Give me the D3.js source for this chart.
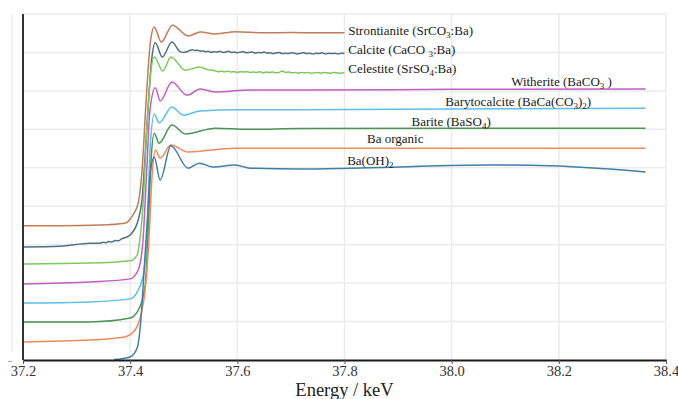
<!DOCTYPE html>
<html>
<head>
<meta charset="utf-8">
<script src="https://cdn.jsdelivr.net/npm/d3@7"></script>
<style>
  body { margin: 0; background: #fff; }
  svg { display: block; font-family: "Liberation Serif", "Times New Roman", serif; }
</style>
</head>
<body>
<svg id="chart" width="678" height="399"></svg>
<script>
// x ticks (keV)
const xTicks = [37.2, 37.4, 37.6, 37.8, 38.0, 38.2, 38.4];
// horizontal grid rows (stacked offset units)
const yGrid = [0, 1, 2, 3, 4, 5, 6, 7, 8, 9];

// spectra: [energy keV, offset absorption]
const strontianite = [[37.2,3.49],[37.27,3.49],[37.344,3.51],[37.39,3.56],[37.405,3.77],[37.415,4.08],[37.422,4.9],[37.43,6.8],[37.438,8.3],[37.445,8.66],[37.458,8.27],[37.479,8.71],[37.508,8.43],[37.531,8.53],[37.559,8.48],[37.596,8.54],[37.65,8.51],[37.7,8.52],[37.75,8.51],[37.8,8.51]];

const calcite = [[37.2,2.94],[37.27,2.96],[37.325,3.04],[37.344,3.04],[37.35,3.06],[37.355,3.05],[37.36,3.08],[37.366,3.07],[37.372,3.11],[37.378,3.10],[37.384,3.15],[37.39,3.18],[37.4,3.25],[37.415,3.64],[37.422,4.16],[37.432,6.24],[37.44,7.8],[37.447,8.25],[37.46,7.88],[37.478,8.27],[37.493,8.02],
  [37.5,8.0],[37.506,8.02],[37.511,8.05],[37.516,8.07],[37.521,8.05],[37.526,8.06],[37.531,8.03],[37.536,8.04],[37.541,8.02],[37.546,8.03],[37.551,8.0],[37.556,8.02],[37.562,8.01],[37.568,8.03],[37.573,8.0],[37.578,8.01],[37.584,8.03],[37.589,8.0],[37.595,8.01],[37.6,7.99],[37.606,8.01],[37.611,8.02],[37.617,7.99],[37.622,8.0],[37.628,8.01],[37.634,7.98],[37.639,8.0],[37.645,7.99],[37.65,8.01],[37.656,7.98],[37.661,7.99],[37.667,7.97],[37.673,7.99],[37.678,8.0],[37.684,7.97],[37.69,7.98],[37.695,7.97],[37.701,7.99],[37.707,7.98],[37.712,7.96],[37.718,7.98],[37.724,7.99],[37.73,7.97],[37.735,7.98],[37.741,7.96],[37.747,7.98],[37.752,7.97],[37.758,7.99],[37.764,7.96],[37.77,7.98],[37.776,7.97],[37.782,7.98],[37.788,7.96],[37.794,7.98],[37.8,7.97]];

const celestite = [[37.2,2.50],[37.325,2.52],[37.4,2.58],[37.413,2.73],[37.418,3.12],[37.424,4.03],[37.432,6.24],[37.439,7.54],[37.445,7.88],[37.461,7.52],[37.476,7.88],[37.503,7.54],[37.529,7.62],[37.545,7.55],
  [37.559,7.52],[37.565,7.5],[37.57,7.51],[37.576,7.5],[37.582,7.51],[37.588,7.49],[37.594,7.5],[37.6,7.48],[37.606,7.5],[37.612,7.49],[37.618,7.5],[37.624,7.48],[37.63,7.49],[37.636,7.48],[37.642,7.5],[37.648,7.47],[37.654,7.49],[37.66,7.48],[37.666,7.49],[37.672,7.47],[37.678,7.48],[37.684,7.52],[37.69,7.48],[37.696,7.49],[37.702,7.47],[37.708,7.48],[37.714,7.46],[37.72,7.48],[37.726,7.47],[37.732,7.48],[37.738,7.46],[37.744,7.47],[37.75,7.48],[37.756,7.46],[37.762,7.48],[37.768,7.47],[37.774,7.46],[37.78,7.48],[37.786,7.47],[37.792,7.46],[37.8,7.47]];

const witherite = [[37.2,1.98],[37.325,2.03],[37.4,2.11],[37.415,2.34],[37.424,3.12],[37.43,4.68],[37.437,6.5],[37.447,7.08],[37.456,6.74],[37.478,7.23],[37.506,6.89],[37.531,7.05],[37.559,6.97],[37.624,7.02],[37.717,7.02],[38.0,7.04],[38.362,7.05]];

const barytocalcite = [[37.2,1.48],[37.325,1.51],[37.4,1.59],[37.415,1.82],[37.426,2.34],[37.432,3.38],[37.437,5.46],[37.445,6.40],[37.454,6.17],[37.478,6.58],[37.499,6.37],[37.531,6.48],[37.6,6.51],[37.717,6.51],[38.0,6.53],[38.362,6.55]];

const barite = [[37.2,0.99],[37.325,0.99],[37.4,1.09],[37.418,1.38],[37.428,1.95],[37.433,3.12],[37.439,5.2],[37.445,5.90],[37.454,5.64],[37.478,6.11],[37.503,5.88],[37.559,6.03],[37.62,6.0],[37.717,6.02],[38.0,6.03],[38.362,6.03]];

const baOrganic = [[37.2,0.47],[37.325,0.52],[37.39,0.60],[37.409,0.78],[37.42,1.17],[37.428,1.82],[37.435,3.12],[37.441,4.81],[37.447,5.46],[37.456,5.25],[37.476,5.59],[37.508,5.41],[37.596,5.51],[37.717,5.51],[38.0,5.51],[38.362,5.51]];

const baOH2 = [[37.37,0.01],[37.4,0.08],[37.413,0.31],[37.42,1.04],[37.426,2.34],[37.432,3.64],[37.437,4.81],[37.445,5.28],[37.456,4.68],[37.476,5.57],[37.508,4.99],[37.529,5.12],[37.555,5.02],[37.596,5.07],[37.624,4.99],[37.717,4.97],[37.81,4.99],[37.904,5.02],[37.997,5.06],[38.091,5.07],[38.184,5.05],[38.278,4.98],[38.362,4.89]];

const spectra = [strontianite, calcite, celestite, witherite, barytocalcite, barite, baOrganic, baOH2];
const colors = ["#c27c58", "#4f6f82", "#7dc95e", "#c05ec4", "#5bbfe6", "#4b9455", "#f28a5c", "#3f7fa6"];

// label parts: [text, isSubscript]
const labelParts = [
  [["Strontianite (SrCO", 0], ["3", 1], [":Ba)", 0]],
  [["Calcite (CaCO ", 0], ["3", 1], [":Ba)", 0]],
  [["Celestite (SrSO", 0], ["4", 1], [":Ba)", 0]],
  [["Witherite (BaCO", 0], ["3", 1], [" )", 0]],
  [["Barytocalcite (BaCa(CO", 0], ["3", 1], [")", 0], ["2", 1], [")", 0]],
  [["Barite (BaSO", 0], ["4", 1], [")", 0]],
  [["Ba organic", 0]],
  [["Ba(OH)", 0], ["2", 1]]
];
// label anchor [energy, offset units]
const labelAt = [[37.807,8.45],[37.807,7.96],[37.807,7.47],[38.111,7.13],[37.988,6.61],[37.925,6.09],[37.842,5.64],[37.805,5.07]];

const svg = d3.select("#chart");
const x = d3.scaleLinear().domain([37.2, 38.4]).range([23, 666]);
const y = d3.scaleLinear().domain([0, 9]).range([360, 14]);

// grid
const grid = svg.append("g").attr("stroke", "#ebebeb").attr("stroke-width", 1.5);
grid.selectAll(".gx").data(xTicks.slice(1)).join("line")
  .attr("x1", d => x(d)).attr("x2", d => x(d))
  .attr("y1", y(9)).attr("y2", y(0));
grid.selectAll(".gy").data(yGrid.slice(1)).join("line")
  .attr("x1", x(37.2)).attr("x2", x(38.4))
  .attr("y1", d => y(d)).attr("y2", d => y(d));

// faint outer y axis
svg.append("line").attr("x1", 12).attr("x2", 12).attr("y1", y(9)).attr("y2", y(0) - 8)
  .attr("stroke", "#e6e6e6").attr("stroke-width", 1.2);
svg.append("line").attr("x1", 8).attr("x2", 12).attr("y1", y(0) + 1.5).attr("y2", y(0) + 1.5)
  .attr("stroke", "#aaa").attr("stroke-width", 1);

// spectra
const line = d3.line().x(d => x(d[0])).y(d => y(d[1])).curve(d3.curveMonotoneX);
svg.append("g").selectAll("path").data(spectra).join("path")
  .attr("d", line)
  .attr("fill", "none")
  .attr("stroke", (d, i) => colors[i])
  .attr("stroke-width", 1.5)
  .attr("stroke-linejoin", "round");

// labels
const labels = svg.append("g").attr("font-size", 13).attr("fill", "#1a1a1a");
labelParts.forEach((parts, i) => {
  const t = labels.append("text")
    .attr("x", x(labelAt[i][0]))
    .attr("y", y(labelAt[i][1]));
  parts.forEach(([s, sub]) => {
    const ts = t.append("tspan").text(s);
    if (sub) ts.attr("font-size", 9).attr("dy", 3);
    else if (t.selectAll("tspan").size() > 1) ts.attr("dy", -3);
  });
});

// axes
svg.append("line").attr("x1", x(37.2)).attr("x2", x(37.2)).attr("y1", y(9)).attr("y2", y(0))
  .attr("stroke", "#333").attr("stroke-width", 2);

const xAxis = svg.append("g")
  .attr("transform", `translate(0,${y(0)})`)
  .call(d3.axisBottom(x).tickValues(xTicks).tickFormat(d3.format(".1f")).tickSize(4).tickPadding(2).tickSizeOuter(0));
xAxis.select(".domain").attr("stroke", "#1a1a1a").attr("stroke-width", 2);
xAxis.selectAll(".tick line").attr("stroke", "#555");
xAxis.selectAll(".tick text")
  .style("font-family", "'Liberation Serif', 'Times New Roman', serif")
  .style("font-size", "14.5px")
  .attr("fill", "#333").attr("dy", "0.7em");

svg.append("text")
  .attr("x", (x(37.2) + x(38.4)) / 2).attr("y", 395.5)
  .attr("text-anchor", "middle")
  .attr("font-size", 18.5).attr("fill", "#222")
  .text("Energy / keV");
</script>
</body>
</html>
